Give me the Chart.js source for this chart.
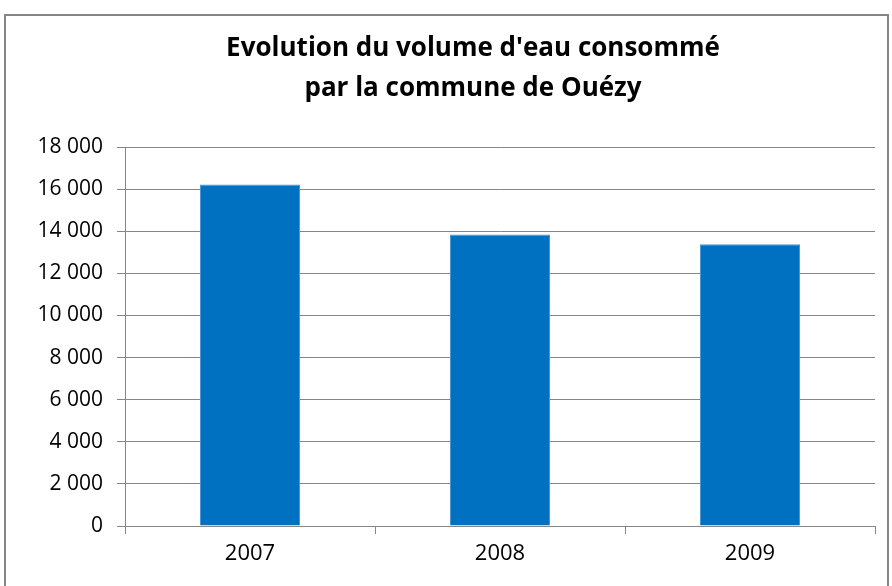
<!DOCTYPE html>
<html>
<head>
<meta charset="utf-8">
<script src="https://cdn.jsdelivr.net/npm/chart.js@4/dist/chart.umd.min.js"></script>
<style>
  html, body { margin: 0; padding: 0; background: #fff; overflow: hidden; }
  #wrap { position: relative; width: 892px; height: 586px; }
</style>
</head>
<body>
<div id="wrap"><canvas id="chart" width="892" height="586"></canvas></div>
<script>
const years = ["2007", "2008", "2009"];
const volumes = [16220, 13850, 13380];
const titleLines = ["Evolution du volume d'eau consommé", "par la commune de Ouézy"];
const yMax = 18000;
const yStep = 2000;

// gray frame around the chart (runs off the bottom like the original)
const framePlugin = {
    id: "frame",
    beforeDraw(chart) {
        const c = chart.ctx;
        c.save();
        c.fillStyle = "#fff";
        c.fillRect(0, 0, chart.width, chart.height);
        c.strokeStyle = "#868686";
        c.lineWidth = 2;
        c.strokeRect(5, 15, 883, 620);
        c.restore();
    },
    // the original title sits a bit right of the canvas centre
    afterLayout(chart) {
        if (chart.titleBlock) chart.titleBlock.left = 71;
    }
};

function formatThousands(v) {
    return String(v).replace(/\B(?=(\d{3})+(?!\d))/g, " ");
}

const font = "'Open Sans', Lato, sans-serif";

new Chart(document.getElementById("chart"), {
    type: "bar",
    data: {
        labels: years,
        datasets: [{
            data: volumes,
            backgroundColor: "#0070C0",
            borderColor: "#4a95d3",
            borderWidth: 1,
            categoryPercentage: 0.8,
            barPercentage: 0.5
        }]
    },
    options: {
        responsive: false,
        animation: false,
        layout: { padding: { left: 0, right: 17, top: 0, bottom: 20 } },
        plugins: {
            legend: { display: false },
            tooltip: { enabled: false },
            title: {
                display: true,
                text: titleLines,
                color: "#000",
                font: { family: font, size: 26, weight: "bold", lineHeight: 1.54 },
                padding: { top: 29, bottom: 38 }
            }
        },
        scales: {
            x: {
                grid: { offset: true, drawOnChartArea: false, tickLength: 8, color: "#868686" },
                border: { color: "#868686" },
                ticks: {
                    color: "#000",
                    padding: 7,
                    font: { family: font, size: 22 }
                },
                afterFit(scale) { scale.height = 40; }
            },
            y: {
                min: 0,
                max: yMax,
                grid: { color: "#868686", tickLength: 8 },
                border: { color: "#868686" },
                ticks: {
                    stepSize: yStep,
                    color: "#000",
                    padding: 14,
                    font: { family: font, size: 21 },
                    callback: (v) => formatThousands(v)
                },
                afterFit(scale) { scale.width = 125; }
            }
        }
    },
    plugins: [framePlugin]
});
</script>
</body>
</html>
